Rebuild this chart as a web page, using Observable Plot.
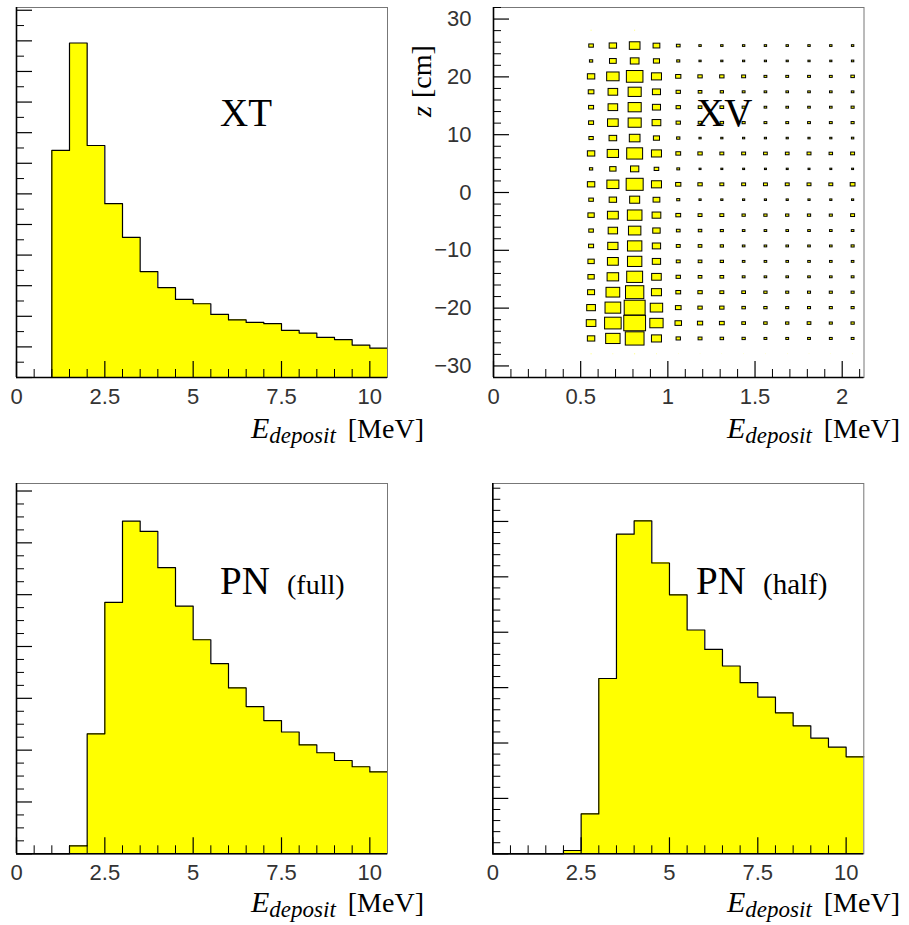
<!DOCTYPE html>
<html><head><meta charset="utf-8">
<script src="https://cdn.jsdelivr.net/npm/d3@7"></script>
<script src="https://cdn.jsdelivr.net/npm/@observablehq/plot@0.6"></script>
<style>
body{margin:0;background:#fff;}
#root{position:relative;width:909px;height:925px;overflow:hidden;background:#fff;}
.panel{position:absolute;}
#overlay{position:absolute;left:0;top:0;pointer-events:none;}
</style></head><body><div id="root"></div>
<script>
// ---------------- DATA ----------------
// Energy histograms: lower bin edges (MeV), bin width 0.5 MeV
const energyBinLow = [0,0.5,1,1.5,2,2.5,3,3.5,4,4.5,5,5.5,6,6.5,7,7.5,8,8.5,9,9.5,10];
const energyBinWidth = 0.5;
const xtCounts     = [0,0,7.42,10.93,7.58,5.68,4.58,3.46,2.94,2.55,2.41,2.06,1.88,1.80,1.76,1.54,1.45,1.31,1.24,1.06,0.96];
const pnFullCounts = [0,0,0,0.154,2.315,4.85,6.42,6.22,5.52,4.78,4.13,3.67,3.20,2.84,2.57,2.35,2.10,1.95,1.80,1.68,1.58];
const pnHalfCounts = [0,0,0,0,0.06,0.72,3.165,5.77,6.01,5.25,4.675,4.04,3.69,3.39,3.09,2.83,2.545,2.31,2.09,1.925,1.75];
const energyTickLabels = [0,2.5,5,7.5,10];

// XV box plot: E_deposit bin centers (MeV) x z bin centers (cm), relative content (%)
const xvEnergyCenters = [0.5625,0.6875,0.8125,0.9375,1.0625,1.1875,1.3125,1.4375,1.5625,1.6875,1.8125,1.9375,2.0625];
const xvZCenters = [28,25.33,22.67,20,17.33,14.67,12,9.33,6.67,4,1.33,-1.33,-4,-6.67,-9.33,-12,-14.67,-17.33,-20,-22.67,-25.33,-28];
const xvBinWidthE = 0.125;
const xvBinHeightZ = 64/24;
const xvContent = [
  [ 4, 0, 4, 0, 0, 0, 0, 0, 0, 0, 0, 0, 0],
  [21,34,49,31,17,11,11,11,11,11,11,11,11],
  [15,31,40,28,14,10,10,10,10,10,10,10,11],
  [34,57,76,46,24,20,20,18,13,13,13,13,16],
  [26,44,60,37,20,17,15,13,12,12,12,12,12],
  [23,44,60,37,20,17,17,14,12,12,12,12,14],
  [23,49,60,40,20,17,16,14,13,13,13,13,14],
  [20,35,49,28,15,10,10,10,10,10,10,10,11],
  [34,52,73,46,22,20,18,18,17,17,18,16,18],
  [15,29,38,21,13, 9, 9, 9, 9, 9, 9, 9, 9],
  [34,55,78,46,24,20,18,18,18,18,18,18,22],
  [21,34,46,31,14,10,10,10,10,10,10,10,10],
  [29,50,67,40,22,18,18,15,15,15,15,14,18],
  [21,43,57,34,17,16,14,12,12,12,12,12,12],
  [23,47,66,38,18,17,15,12,12,12,12,12,14],
  [29,50,66,38,18,17,15,12,12,12,12,12,12],
  [29,53,73,44,20,17,17,13,12,12,12,12,13],
  [32,63,84,46,22,20,18,17,15,14,14,14,14],
  [40,72,96,57,26,20,20,16,15,14,14,14,14],
  [44,76,100,61,30,24,22,17,16,15,17,14,15],
  [34,66,86,46,20,18,16,15,13,13,13,13,13],
  [ 4, 3, 4, 3, 2, 2, 2, 2, 2, 2, 2, 2, 2]
];
const xvZTickLabels = [-30,-20,-10,0,10,20,30];
const xvETickLabels = [0,0.5,1,1.5,2];

// ---------------- HELPERS ----------------
const root = document.getElementById("root");
const YELLOW = "#ffff00";
const fmt = d => d < 0 ? "\u2212" + String(-d) : String(d);

function stepTicks(lo, hi, step) {
  const n = Math.floor((hi - lo) / step + 1e-9);
  return d3.range(0, n + 1).map(k => +(lo + k * step).toFixed(6));
}

function tickMarks(xMajor, xMinor, yMajor, yMinor, fw, fh) {
  const notIn = (arr) => (d) => !arr.some(m => Math.abs(m - d) < 1e-6);
  return [
    Plot.tickX(xMinor.filter(notIn(xMajor)), {x: d => d, stroke: "black", strokeWidth: 1, insetTop: fh - 8}),
    Plot.tickX(xMajor, {x: d => d, stroke: "black", strokeWidth: 1.2, insetTop: fh - 16}),
    Plot.tickY(yMinor.filter(notIn(yMajor)), {y: d => d, stroke: "black", strokeWidth: 1, insetRight: fw - 8}),
    Plot.tickY(yMajor, {y: d => d, stroke: "black", strokeWidth: 1.2, insetRight: fw - 16})
  ];
}

function place(svg, left, top) {
  const div = document.createElement("div");
  div.className = "panel";
  div.style.left = left + "px";
  div.style.top = top + "px";
  div.appendChild(svg);
  root.appendChild(div);
}

const baseStyle = {fontFamily: "'Liberation Sans', Arial, sans-serif", fontSize: "22px", color: "#333", background: "transparent", overflow: "visible"};

function histPanel({counts, left, top, W, mL, mR, mB, yMax, yMajorStep, yMinorStep}) {
  const H = 420, mT = 7;
  const fw = W - mL - mR, fh = H - mT - mB;
  const idx = counts.map((c, i) => i);
  const pts = [{x: energyBinLow[0], y: 0}];
  counts.forEach((c, i) => {
    pts.push({x: energyBinLow[i], y: c});
    pts.push({x: energyBinLow[i] + energyBinWidth, y: c});
  });
  const xMax = energyBinLow[energyBinLow.length - 1] + energyBinWidth;
  const svg = Plot.plot({
    width: W, height: H, marginLeft: mL, marginRight: mR, marginTop: mT, marginBottom: mB,
    style: baseStyle,
    x: {domain: [0, xMax], label: null},
    y: {domain: [0, yMax], axis: null, label: null},
    marks: [
      Plot.rectY(idx, {x1: i => energyBinLow[i], x2: i => energyBinLow[i] + energyBinWidth, y: i => counts[i], fill: YELLOW, shapeRendering: "crispEdges"}),
      Plot.line(pts, {x: "x", y: "y", stroke: "black", strokeWidth: 1.2}),
      Plot.frame({stroke: "#777", strokeWidth: 1}),
      ...tickMarks(stepTicks(0, 10, 2.5), stepTicks(0, 10, 0.5), stepTicks(0, yMax, yMajorStep), stepTicks(0, yMax, yMinorStep), fw, fh),
      Plot.ruleX([0], {stroke: "black", strokeWidth: 1.6}),
      Plot.ruleY([0], {stroke: "black", strokeWidth: 1.6}),
      Plot.axisX({ticks: energyTickLabels, tickSize: 0, tickPadding: 11, tickFormat: fmt, label: null})
    ]
  });
  place(svg, left, top);
}

// ---------------- PANELS ----------------
histPanel({counts: xtCounts, left: 0, top: 0, W: 455, mL: 16, mR: 68, mB: 43, yMax: 12.09, yMajorStep: 1, yMinorStep: 0.5});
histPanel({counts: pnFullCounts, left: 0, top: 476, W: 455, mL: 16, mR: 68, mB: 42.7, yMax: 7.145, yMajorStep: 1, yMinorStep: 0.25});
histPanel({counts: pnHalfCounts, left: 400, top: 476, W: 509, mL: 92.3, mR: 45.7, mB: 42.7, yMax: 6.685, yMajorStep: 1, yMinorStep: 0.2});

(function () {
  // top-right: XV box plot
  const W = 509, H = 420, mL = 93, mR = 45.5, mT = 7, mB = 43;
  const fw = W - mL - mR, fh = H - mT - mB;
  const cells = [];
  xvZCenters.forEach((z, i) => xvEnergyCenters.forEach((e, j) => {
    const v = xvContent[i][j];
    if (v > 0) cells.push({e, z, v});
  }));
  const vmax = d3.max(cells, d => d.v);
  const hw = d => 0.5 * xvBinWidthE * d.v / vmax;
  const hh = d => 0.5 * xvBinHeightZ * d.v / vmax;
  const boxOpts = {x1: d => d.e - hw(d), x2: d => d.e + hw(d), y1: d => d.z - hh(d), y2: d => d.z + hh(d), fill: YELLOW};
  const svg = Plot.plot({
    width: W, height: H, marginLeft: mL, marginRight: mR, marginTop: mT, marginBottom: mB,
    style: baseStyle,
    x: {domain: [0, 2.125], label: null},
    y: {domain: [-32, 32], label: null},
    marks: [
      Plot.frame({stroke: "#777", strokeWidth: 1}),
      Plot.rect(cells.filter(d => d.v < 6), boxOpts),
      Plot.rect(cells.filter(d => d.v >= 6), {...boxOpts, stroke: "black", strokeWidth: 1}),
      ...tickMarks(stepTicks(0, 2.1, 0.5), stepTicks(0, 2.1, 0.1), stepTicks(-30, 30, 10), stepTicks(-32, 32, 2), fw, fh),
      Plot.ruleX([0], {stroke: "black", strokeWidth: 1.6}),
      Plot.ruleY([-32], {stroke: "black", strokeWidth: 1.6}),
      Plot.axisX({ticks: xvETickLabels, tickSize: 0, tickPadding: 11, tickFormat: fmt, label: null}),
      Plot.axisY({ticks: xvZTickLabels, tickSize: 0, tickPadding: 22, tickFormat: fmt, label: null})
    ]
  });
  place(svg, 400, 0);
})();

// ---------------- TEXT OVERLAY ----------------
const ov = d3.select(root).append("svg").attr("id", "overlay").attr("width", 909).attr("height", 925)
  .style("font-family", "'Liberation Serif', 'Times New Roman', serif").attr("fill", "#000");

function big(x, y, t, size) {
  ov.append("text").attr("x", x).attr("y", y).attr("font-size", size).text(t);
}
big(220, 126, "XT", 39);
big(696, 126, "XV", 39);
big(220, 594, "PN", 39);
big(287, 594, "(full)", 28);
big(696, 594, "PN", 39);
big(763, 594, "(half)", 29);

function eTitle(x, y) {
  const t = ov.append("text").attr("x", x).attr("y", y);
  t.append("tspan").attr("font-size", 30).attr("font-style", "italic").text("E");
  t.append("tspan").attr("font-size", 23).attr("font-style", "italic").attr("dy", 5).text("deposit");
  t.append("tspan").attr("font-size", 28).attr("dx", 12).attr("dy", -5).text("[MeV]");
}
eTitle(251, 438);
eTitle(727, 438);
eTitle(251, 912);
eTitle(727, 912);

const zt = ov.append("text").attr("transform", "translate(431,117) rotate(-90)").attr("font-size", 28);
zt.append("tspan").attr("font-style", "italic").text("z");
zt.append("tspan").attr("dx", 8).text("[cm]");
</script>
</body></html>
